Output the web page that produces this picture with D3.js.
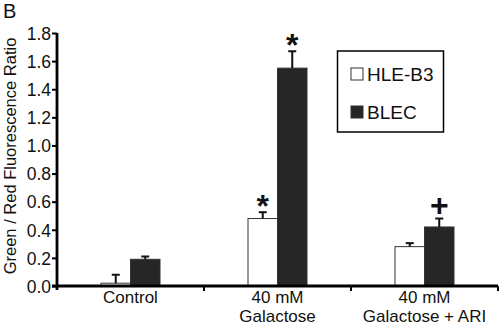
<!DOCTYPE html>
<html>
<head>
<meta charset="utf-8">
<script src="https://cdn.jsdelivr.net/npm/d3@7/dist/d3.min.js"></script>
<style>
  html, body { margin: 0; padding: 0; background: #fff; }
  svg { display: block; font-family: "Liberation Sans", Arial, sans-serif; }
</style>
</head>
<body>
<div id="chart"></div>
<script>
// Green/red fluorescence ratio per treatment group, two cell lines
const categories = ["Control", "40 mM\nGalactose", "40 mM\nGalactose + ARI"];
const seriesNames = ["HLE-B3", "BLEC"];
const hleValues = [0.02, 0.48, 0.28];
const hleErrors = [0.06, 0.045, 0.025];
const blecValues = [0.19, 1.55, 0.42];
const blecErrors = [0.02, 0.12, 0.06];
const markers = [["", ""], ["*", "*"], ["", "+"]];
const yTicks = [0, 0.2, 0.4, 0.6, 0.8, 1.0, 1.2, 1.4, 1.6, 1.8];

const W = 500, H = 327;
const svg = d3.select("#chart").append("svg").attr("width", W).attr("height", H);

const x0 = 57, x1 = 498, yBase = 286, yTop = 33;
const x = d3.scaleBand().domain(categories).range([x0, x1]).padding(0);
const y = d3.scaleLinear().domain([0, 1.8]).range([yBase, yTop]);
const barW = 29.5;
const sub = d3.scaleBand().domain(seriesNames)
  .range([x.bandwidth() / 2 - barW, x.bandwidth() / 2 + barW]).padding(0);

const fills = { "HLE-B3": "#ffffff", "BLEC": "#262626" };

const rows = categories.map((c, i) => ({
  cat: c,
  bars: [
    { s: "HLE-B3", v: hleValues[i], e: hleErrors[i], m: markers[i][0] },
    { s: "BLEC", v: blecValues[i], e: blecErrors[i], m: markers[i][1] }
  ]
}));

// Bars
const groups = svg.selectAll("g.grp").data(rows).join("g")
  .attr("class", "grp")
  .attr("transform", d => `translate(${x(d.cat)},0)`);

groups.selectAll("rect").data(d => d.bars).join("rect")
  .attr("x", d => sub(d.s))
  .attr("width", sub.bandwidth())
  .attr("y", d => y(d.v))
  .attr("height", d => yBase - y(d.v))
  .attr("fill", d => fills[d.s])
  .attr("stroke", "#333")
  .attr("stroke-width", 1);

// Upper error bars with caps
const eb = groups.selectAll("g.err").data(d => d.bars).join("g").attr("class", "err");
eb.append("line")
  .attr("x1", d => sub(d.s) + sub.bandwidth() / 2)
  .attr("x2", d => sub(d.s) + sub.bandwidth() / 2)
  .attr("y1", d => y(d.v))
  .attr("y2", d => y(d.v + d.e))
  .attr("stroke", "#111").attr("stroke-width", 2);
eb.append("line")
  .attr("x1", d => sub(d.s) + sub.bandwidth() / 2 - 4)
  .attr("x2", d => sub(d.s) + sub.bandwidth() / 2 + 4)
  .attr("y1", d => y(d.v + d.e))
  .attr("y2", d => y(d.v + d.e))
  .attr("stroke", "#111").attr("stroke-width", 2);

// Significance markers
groups.selectAll("text.mark").data(d => d.bars.filter(b => b.m)).join("text")
  .attr("class", "mark")
  .attr("x", d => sub(d.s) + sub.bandwidth() / 2)
  .attr("y", d => y(d.v + d.e) - (d.m === "*" ? -5 : 3))
  .attr("text-anchor", "middle")
  .attr("font-size", 32)
  .attr("font-weight", "bold")
  .attr("fill", "#111")
  .text(d => d.m);

// Y axis
const yAxis = d3.axisLeft(y).tickValues(yTicks).tickFormat(d3.format(".1f"))
  .tickSize(5).tickPadding(1);
const gy = svg.append("g").attr("transform", `translate(${x0},0)`).call(yAxis);
gy.select(".domain").attr("stroke", "#000").attr("stroke-width", 2.8)
  .attr("d", `M0,${yTop}V${yBase + 4}`);
gy.selectAll(".tick line").attr("stroke", "#000").attr("stroke-width", 2);
gy.selectAll(".tick text").attr("font-size", 17.5).attr("fill", "#111")
  .attr("dy", "0.36em")
  .attr("font-family", "Liberation Sans, Arial, sans-serif");

// X axis
const xAxis = d3.axisBottom(x).tickValues([]).tickSize(0);
const gx = svg.append("g").attr("transform", `translate(0,${yBase})`).call(xAxis);
gx.select(".domain").attr("stroke", "#000").attr("stroke-width", 2.8)
  .attr("d", `M${x0 - 5},0H${x1}`);
gx.selectAll("line.sep").data(categories).join("line")
  .attr("class", "sep")
  .attr("x1", d => x(d) + x.bandwidth()).attr("x2", d => x(d) + x.bandwidth())
  .attr("y1", 0).attr("y2", 5)
  .attr("stroke", "#000").attr("stroke-width", 2);

// Category labels (multi-line)
const lab = svg.selectAll("text.cat").data(categories).join("text")
  .attr("class", "cat")
  .attr("text-anchor", "middle")
  .attr("font-size", 17)
  .attr("fill", "#111");
lab.each(function (d) {
  const t = d3.select(this);
  d.split("\n").forEach((line, i) => {
    t.append("tspan")
      .attr("x", x(d) + x.bandwidth() / 2)
      .attr("y", 303 + i * 18.5)
      .text(line);
  });
});

// Y axis title
svg.append("text")
  .attr("transform", "translate(15.5,156) rotate(-90)")
  .attr("text-anchor", "middle")
  .attr("font-size", 16.5)
  .attr("fill", "#111")
  .text("Green / Red Fluorescence Ratio");

// Panel letter
svg.append("text").attr("x", 3).attr("y", 18)
  .attr("font-size", 20).attr("fill", "#111").text("B");

// Legend
const lg = svg.append("g");
lg.append("rect").attr("x", 337.5).attr("y", 51).attr("width", 106).attr("height", 81)
  .attr("fill", "#fff").attr("stroke", "#000").attr("stroke-width", 1.5);
seriesNames.forEach((s, i) => {
  const yy = 68 + i * 38;
  lg.append("rect").attr("x", 351).attr("y", yy).attr("width", 12).attr("height", 12)
    .attr("fill", fills[s]).attr("stroke", "#333").attr("stroke-width", 1);
  lg.append("text").attr("x", 367).attr("y", yy + 12.5)
    .attr("font-size", 19).attr("fill", "#111").text(s);
});
</script>
</body>
</html>
